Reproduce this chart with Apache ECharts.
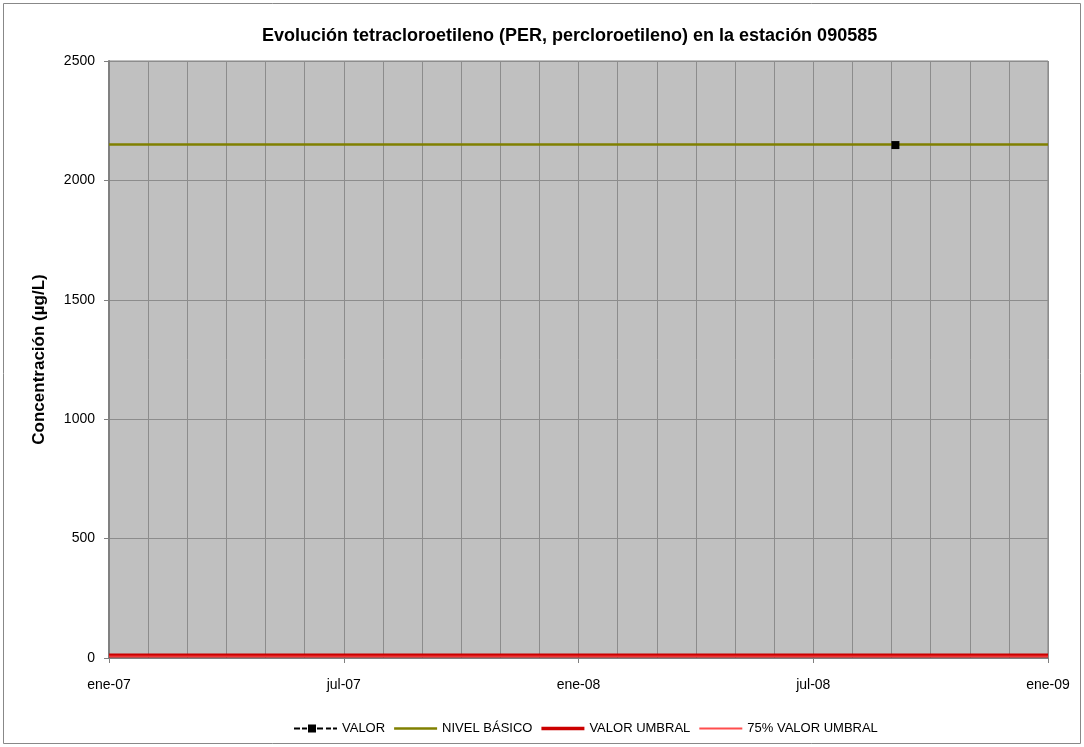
<!DOCTYPE html>
<html><head><meta charset="utf-8">
<script src="https://cdn.jsdelivr.net/npm/echarts@6/dist/echarts.min.js"></script>
<style>html,body{margin:0;padding:0;background:#fff}#c{width:1084px;height:747px}</style>
</head><body><div id="c"></div>
<script>
const monthLabels = ['ene-07','feb-07','mar-07','abr-07','may-07','jun-07','jul-07','ago-07','sep-07','oct-07','nov-07','dic-07',
  'ene-08','feb-08','mar-08','abr-08','may-08','jun-08','jul-08','ago-08','sep-08','oct-08','nov-08','dic-08','ene-09'];
const valorX = [20.1];
const valorY = [2148];
const nivelBasicoX = [0, 24];
const nivelBasicoY = [2150, 2150];
const umbralX = [0, 24];
const umbralY = [10, 10];
const umbral75X = [0, 24];
const umbral75Y = [7.5, 7.5];
const yTicks = [0, 500, 1000, 1500, 2000, 2500];

const zip = (xs, ys) => xs.map((x, i) => [x, ys[i]]);
const font = 'Liberation Sans, Arial, sans-serif';
const lineIcon = h => 'path://M0,' + (4 - h / 2) + 'H43V' + (4 + h / 2) + 'H0Z';
const valorIcon = 'path://M0,3H6V5H0Z M8,3H13V5H8Z M14,0H22V8H14Z M23,3H29V5H23Z M32,3H37V5H32Z M39,3H43V5H39Z';
const chart = echarts.init(document.getElementById('c'), null, {renderer: 'canvas'});
chart.setOption({
  animation: false,
  backgroundColor: '#fff',
  graphic: [{type: 'rect', shape: {x: 3.5, y: 3.5, width: 1077, height: 740}, style: {fill: 'none', stroke: '#888', lineWidth: 1}, z: -1}],
  title: {text: 'Evolución tetracloroetileno (PER, percloroetileno) en la estación 090585', left: 257, top: 22,
    textStyle: {fontFamily: font, fontSize: 18, fontWeight: 'bold', color: '#000'}},
  grid: {left: 109, right: 36, top: 61, bottom: 89, show: true, backgroundColor: '#c0c0c0', borderColor: '#808080', borderWidth: 1},
  xAxis: {type: 'value', min: 0, max: 24, interval: 6,
    axisLine: {show: true, onZero: false, lineStyle: {color: '#808080'}},
    axisTick: {show: true, length: 5, lineStyle: {color: '#808080'}},
    axisLabel: {margin: 20, fontFamily: font, fontSize: 14, color: '#000', formatter: v => monthLabels[Math.round(v)]},
    splitLine: {show: true, lineStyle: {color: '#8c8c8c', width: 1}},
    minorTick: {show: false, splitNumber: 6},
    minorSplitLine: {show: true, lineStyle: {color: '#8c8c8c', width: 1}}
  },
  yAxis: {type: 'value', min: yTicks[0], max: yTicks[yTicks.length-1], interval: 500,
    name: 'Concentración (µg/L)', nameLocation: 'middle', nameGap: 61,
    nameTextStyle: {fontFamily: font, fontSize: 17, fontWeight: 'bold', color: '#000'},
    axisLine: {show: true, lineStyle: {color: '#808080', width: 2}},
    axisTick: {show: true, length: 5, lineStyle: {color: '#808080'}},
    axisLabel: {margin: 14, fontFamily: font, fontSize: 14, color: '#000', formatter: v => String(v)},
    splitLine: {show: true, lineStyle: {color: '#8c8c8c', width: 1}}
  },
  legend: {top: 717, left: 289, itemGap: 9, itemWidth: 43, itemHeight: 8,
    textStyle: {fontFamily: font, fontSize: 13, color: '#000'},
    data: [
      {name: 'VALOR', icon: valorIcon},
      {name: 'NIVEL BÁSICO', icon: lineIcon(2.5)},
      {name: 'VALOR UMBRAL', icon: lineIcon(3.5)},
      {name: '75% VALOR UMBRAL', icon: lineIcon(2)}
    ]},
  series: [
    {name: 'NIVEL BÁSICO', type: 'line', data: zip(nivelBasicoX, nivelBasicoY), showSymbol: false, symbol: 'none',
      lineStyle: {color: '#808000', width: 2.5}, itemStyle: {color: '#808000'}},
    {name: 'VALOR UMBRAL', type: 'line', data: zip(umbralX, umbralY), symbol: 'none',
      lineStyle: {color: '#cc0000', width: 4}, itemStyle: {color: '#cc0000'}},
    {name: '75% VALOR UMBRAL', type: 'line', data: zip(umbral75X, umbral75Y), symbol: 'none',
      lineStyle: {color: '#ff4d4d', width: 1}, itemStyle: {color: '#ff4d4d'}},
    {name: 'VALOR', type: 'line', data: zip(valorX, valorY), symbol: 'rect', symbolSize: 8, showSymbol: true,
      lineStyle: {color: '#000', width: 2, type: 'dashed'}, itemStyle: {color: '#000'}, z: 5}
  ]
});
</script></body></html>
